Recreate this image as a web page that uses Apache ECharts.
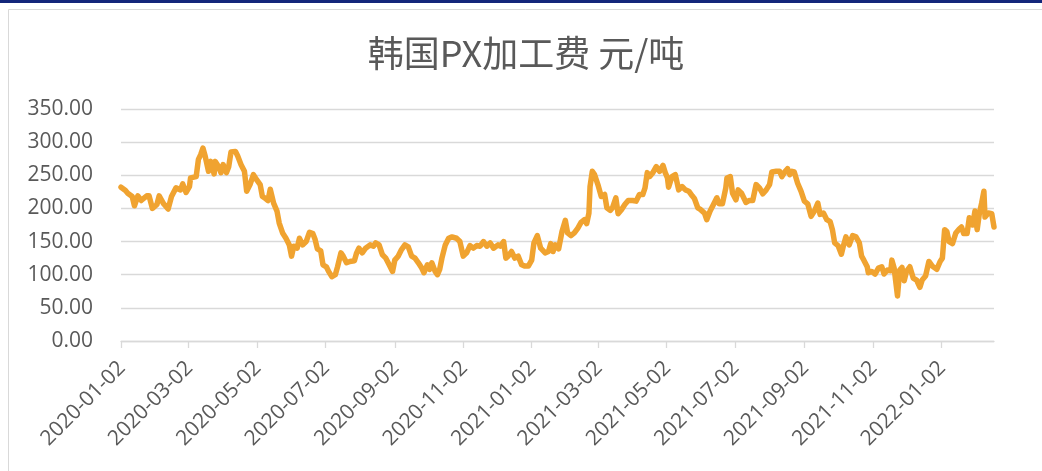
<!DOCTYPE html>
<html>
<head>
<meta charset="utf-8">
<title>韩国PX加工费</title>
<script src="https://cdn.jsdelivr.net/npm/echarts@6/dist/echarts.min.js"></script>
<style>
  html, body { margin: 0; padding: 0; background: #fff; }
  #chart { width: 1042px; height: 471px; }
</style>
</head>
<body>
<div id="chart"></div>
<script>
// data; x as days since startDate
const startDate = "2020-01-02";
const dayOffsets = [
  0, 4, 6, 10, 12, 15, 18, 23, 25, 28, 32, 34, 38, 42, 45, 49, 53, 55, 58, 61, 62, 67, 69, 71, 73, 75, 78, 80, 83, 84,
  87, 89, 91, 94, 96, 98, 102, 104, 107, 110, 112, 115, 118, 121, 124, 126, 128,
  131, 133, 136, 139, 141, 144, 147, 150, 152, 154, 157, 159, 162, 165, 168, 171, 173, 175, 178, 180, 183, 185, 188, 191,
  193, 196, 198, 201, 204, 208, 210, 212, 215, 218, 222, 225, 227, 230, 233, 236, 239, 242, 244, 247, 250, 253, 256,
  259, 262, 265, 268, 270, 273, 275, 277, 280, 282, 284, 286, 289, 292, 295, 299, 302, 305, 308, 311, 314, 317, 320, 323,
  326, 329, 332, 336, 338, 341, 343, 345, 348, 351, 354, 357, 360, 363, 366, 368, 371, 374, 378, 381, 383, 385, 387, 390,
  393, 396, 398, 401, 404, 407, 410, 413, 415, 417, 418, 420, 422, 425, 428, 431, 433, 436, 438, 441, 443, 446, 449, 452,
  456, 459, 462, 465, 467, 469, 471, 474, 477, 480, 483, 485, 487, 488, 491, 494, 497, 500, 503, 506, 509, 511, 514,
  516, 520, 522, 525, 528, 531, 533, 536, 539, 540, 543, 545, 548, 550, 553, 557, 560, 563, 566, 569, 572, 575, 578, 580,
  584, 587, 589, 592, 594, 596, 598, 600, 603, 606, 609, 612, 615, 618, 621, 623, 626, 629, 632, 634, 636, 639, 642, 644,
  646, 649, 652, 655, 658, 660, 662, 665, 666, 669, 672, 675, 678, 680, 683, 686, 687, 689, 690, 692, 694, 696, 698, 700,
  703, 706, 709, 712, 714, 717, 720, 723, 727, 730, 732, 734, 736, 738, 741, 744, 747, 749, 751, 754, 756, 759, 761, 763,
  765, 767, 769, 770, 773, 776, 778
];
const values = [
  232, 227, 223, 218, 204, 219, 212, 219, 219, 200, 206, 219, 207, 199, 218, 231, 228, 237, 224, 233, 246, 248, 274, 281, 291, 279, 256, 271, 252, 271,
  263, 254, 266, 254, 263, 285, 286, 279, 266, 256, 226, 236, 251, 243, 236, 218, 216,
  212, 229, 208, 196, 178, 163, 155, 145, 128, 143, 140, 155, 145, 150, 164, 162, 153, 139, 136, 115, 112, 105, 97, 100,
  112, 133, 128, 118, 120, 121, 133, 140, 133, 140, 145, 143, 148, 145, 130, 125, 115, 105, 122, 128, 138, 145, 142,
  128, 125, 118, 110, 103, 115, 108, 118, 105, 100, 108, 125, 145, 155, 157, 155, 150, 128, 133, 144, 140, 144, 143, 150,
  143, 148, 140, 145, 143, 150, 125, 128, 135, 125, 128, 115, 113, 113, 122, 148, 159, 140, 133, 135, 147, 135, 145, 139,
  165, 182, 163, 159, 163, 170, 179, 183, 177, 193, 233, 256, 251, 236, 218, 221, 201, 197, 201, 216, 192, 198, 206, 212,
  212, 211, 221, 221, 231, 254, 248, 254, 263, 256, 265, 254, 246, 232, 248, 251, 228, 233, 228, 226, 219, 215, 201,
  199, 193, 183, 196, 206, 216, 207, 207, 231, 246, 248, 223, 213, 228, 223, 209, 212, 212, 236, 231, 222, 228, 236, 255,
  256, 256, 248, 256, 260, 251, 256, 255, 238, 226, 211, 207, 188, 196, 208, 191, 193, 183, 180, 168, 148, 144, 131, 145,
  157, 145, 159, 157, 148, 128, 122, 112, 103, 105, 101, 110, 112, 101, 107, 106, 122, 110, 113, 68, 107, 111, 91, 105,
  112, 95, 92, 81, 92, 98, 120, 113, 108, 120, 125, 168, 165, 150, 147, 163, 169, 172, 162, 162, 186, 175, 196, 168,
  193, 208, 226, 187, 193, 192, 172
];
const tickDates = [
  "2020-01-02", "2020-03-02", "2020-05-02", "2020-07-02", "2020-09-02", "2020-11-02",
  "2021-01-02", "2021-03-02", "2021-05-02", "2021-07-02", "2021-09-02", "2021-11-02", "2022-01-02"
];
const yMin = 0;
const yMax = 350;
const yStep = 50;

const DAY = 86400000;
const t0 = Date.parse(startDate);
const seriesData = dayOffsets.map((d, i) => [d, values[i]]);
// tick positions on the day axis
const tickDays = tickDates.map((s) => Math.round((Date.parse(s) - t0) / DAY));

const TEXT_COLOR = "#595959";
const GRID_COLOR = "#d9d9d9";
const LINE_COLOR = "#f0a330";

function pad(n) {
  return n < 10 ? "0" + n : "" + n;
}

function fmtDay(day) {
  const d = new Date(t0 + day * DAY);
  return d.getUTCFullYear() + "-" + pad(d.getUTCMonth() + 1) + "-" + pad(d.getUTCDate());
}

const chart = echarts.init(document.getElementById("chart"));

chart.setOption({
  animation: false,
  backgroundColor: "#ffffff",
  textStyle: { fontFamily: "Open Sans" },
  grid: { left: 121, right: 48, top: 109, bottom: 130 },
  graphic: [
    { type: "rect", shape: { x: 0, y: 0, width: 1042, height: 3 }, style: { fill: "#13267a" }, z: 0 },
    {
      type: "rect",
      shape: { x: 8.5, y: 9.5, width: 1100, height: 500 },
      style: { fill: "none", stroke: GRID_COLOR, lineWidth: 1 },
      z: 0
    },
    {
      type: "text",
      x: 526,
      y: 53,
      style: {
        text: "韩国PX加工费 元/吨",
        fill: TEXT_COLOR,
        font: "36px 'Noto Sans CJK SC'",
        align: "center",
        verticalAlign: "middle"
      },
      z: 10
    }
  ],
  xAxis: {
    type: "value",
    min: 0,
    max: dayOffsets[dayOffsets.length - 1],
    axisLine: { lineStyle: { color: GRID_COLOR, width: 1.3 } },
    axisTick: {
      show: true,
      customValues: tickDays,
      length: 7,
      lineStyle: { color: GRID_COLOR, width: 1.3 }
    },
    axisLabel: {
      customValues: tickDays,
      rotate: 45,
      margin: 10,
      verticalAlign: "top",
      padding: [0, 9, 0, 0],
      color: TEXT_COLOR,
      fontSize: 21,
      fontFamily: "Open Sans",
      formatter: (v) => fmtDay(v),
      showMinLabel: true,
      showMaxLabel: true,
      hideOverlap: false
    },
    splitLine: { show: false }
  },
  yAxis: {
    type: "value",
    min: yMin,
    max: yMax,
    interval: yStep,
    axisLine: { show: false },
    axisTick: { show: false },
    axisLabel: {
      margin: 28,
      color: TEXT_COLOR,
      fontSize: 21,
      fontFamily: "Open Sans",
      formatter: (v) => v.toFixed(2)
    },
    splitLine: { lineStyle: { color: GRID_COLOR, width: 1.3 } }
  },
  series: [
    {
      type: "line",
      data: seriesData,
      showSymbol: false,
      symbol: "none",
      lineStyle: { color: LINE_COLOR, width: 5.5, join: "round", cap: "round" },
      itemStyle: { color: LINE_COLOR }
    }
  ]
});
</script>
</body>
</html>
